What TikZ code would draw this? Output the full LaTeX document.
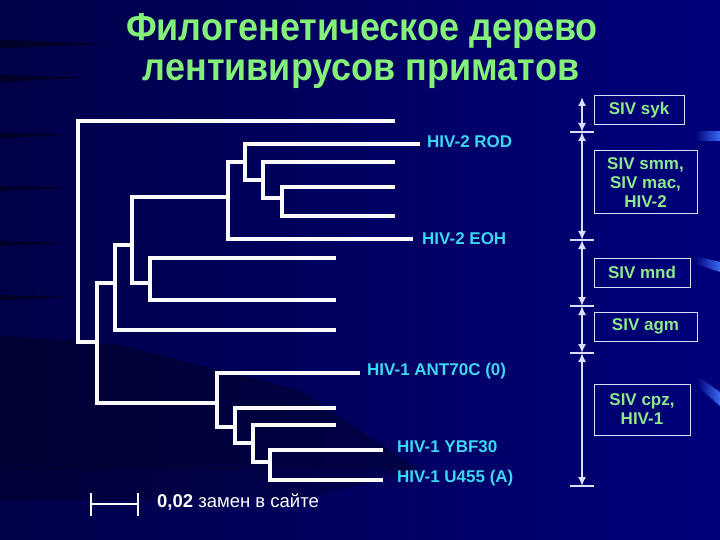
\documentclass[tikz,border=0pt]{standalone}
\usepackage{fontspec}
\setmainfont{Liberation Sans}
\usetikzlibrary{arrows.meta}
\definecolor{bgbase}{HTML}{00006A}
\definecolor{bgleft}{HTML}{000048}
\definecolor{bgright}{HTML}{00007A}
\definecolor{treec}{HTML}{FAFAFF}
\definecolor{lblcyan}{HTML}{3CD6F0}
\definecolor{boxgreen}{HTML}{8DE88D}
\definecolor{titlegreen}{HTML}{84F07A}
\definecolor{dimc}{HTML}{DCDCFF}
\definecolor{rayblue}{HTML}{3A6AF0}
\tikzset{
  branch/.style={draw=treec, line width=4pt, line join=miter, line cap=butt},
  leaflbl/.style={font=\bfseries\fontsize{17}{19}\selectfont, text=lblcyan, anchor=west, inner sep=0pt},
  groupbox/.style={draw=dimc, line width=1pt, text=boxgreen, font=\bfseries\fontsize{17}{19}\selectfont, align=center, inner sep=0pt},
  dimline/.style={draw=dimc, line width=1.6pt, {Latex[length=9pt,width=8pt]}-{Latex[length=9pt,width=8pt]}},
  dimtick/.style={draw=dimc, line width=1.6pt},
  titletext/.style={font=\bfseries\fontsize{36}{42}\selectfont, text=titlegreen, anchor=base, inner sep=0pt},
  streak/.style={fill=black, opacity=0.45}
}
\begin{document}
\begin{tikzpicture}[x=1pt,y=-1pt]
\useasboundingbox (0,0) rectangle (720,540);
% background
\fill[bgbase] (0,0) rectangle (720,540);
\shade[left color=bgleft, right color=bgright] (0,0) rectangle (720,540);
\fill[black, opacity=0.3] (0,335) -- (120,345) -- (300,390) -- (420,470) -- (0,470) -- cycle;
\fill[black, opacity=0.2] (0,470) -- (420,470) -- (300,500) -- (0,500) -- cycle;
\fill[streak] (0,40) -- (110,44) -- (0,48) -- cycle;
\fill[streak] (0,75) -- (90,78) -- (0,82) -- cycle;
\fill[streak] (0,133) -- (75,135) -- (0,138) -- cycle;
\fill[streak] (0,186) -- (75,188) -- (0,191) -- cycle;
\fill[streak] (0,241) -- (75,243) -- (0,246) -- cycle;
\fill[streak] (0,295) -- (75,297) -- (0,300) -- cycle;
% decorative rays at right edge
\shade[left color=bgright, right color=rayblue] (695,132) rectangle (720,141);
\shade[left color=bgright, right color=rayblue] (695,256) -- (720,262) -- (720,272) -- (695,264) -- cycle;
\shade[left color=bgright, right color=rayblue] (697,376) -- (720,392) -- (720,406) -- (697,386) -- cycle;

% title
\node[titletext, yscale=1.08] (title1) at (362,41) {Филогенетическое дерево};
\node[titletext, yscale=1.08] (title2) at (361,81) {лентивирусов приматов};

% leaf end points
\coordinate (l1) at (395,121);
\coordinate (l2) at (420,144);
\coordinate (l3) at (395,162);
\coordinate (l4) at (395,187);
\coordinate (l5) at (395,216);
\coordinate (l6) at (413,239);
\coordinate (l7) at (336,258);
\coordinate (l8) at (336,300);
\coordinate (l9) at (336,330);
\coordinate (l10) at (360,373);
\coordinate (l11) at (336,408);
\coordinate (l12) at (336,425);
\coordinate (l13) at (383,450);
\coordinate (l14) at (383,480);
% internal nodes
\coordinate (R) at (78,230);
\coordinate (A) at (97,342);
\coordinate (B) at (115,283);
\coordinate (C) at (132,245);
\coordinate (D) at (228,197);
\coordinate (E) at (245,162);
\coordinate (F) at (263,180);
\coordinate (G) at (282,198);
\coordinate (H) at (150,283);
\coordinate (I) at (217,403);
\coordinate (J) at (235,427);
\coordinate (K) at (253,443);
\coordinate (M) at (270,462);

% tree
\draw[branch] (l1) -| (R) |- (A);
\draw[branch] (B) -| (A) |- (I);
\draw[branch] (C) -| (B) |- (l9);
\draw[branch] (D) -| (C) |- (H);
\draw[branch] (E) -| (D) |- (l6);
\draw[branch] (l2) -| (E) |- (F);
\draw[branch] (l3) -| (F) |- (G);
\draw[branch] (l4) -| (G) |- (l5);
\draw[branch] (l7) -| (H) |- (l8);
\draw[branch] (l10) -| (I) |- (J);
\draw[branch] (l11) -| (J) |- (K);
\draw[branch] (l12) -| (K) |- (M);
\draw[branch] (l13) -| (M) |- (l14);

% leaf labels
\node[leaflbl] (rod) at (427,142) {HIV-2 ROD};
\node[leaflbl] (eoh) at (422,239) {HIV-2 EOH};
\node[leaflbl] (ant) at (367,371) {HIV-1 ANT70C (0)};
\node[leaflbl] (ybf) at (397,447) {HIV-1 YBF30};
\node[leaflbl] (u455) at (397,478) {HIV-1 U455 (A)};

% dimension column
\coordinate (d0) at (582,97);
\coordinate (d1) at (582,132);
\coordinate (d2) at (582,240);
\coordinate (d3) at (582,306);
\coordinate (d4) at (582,353);
\coordinate (d5) at (582,486);
\draw[dimline] (d0) -- (d1);
\draw[dimline] (d1) -- (d2);
\draw[dimline] (d2) -- (d3);
\draw[dimline] (d3) -- (d4);
\draw[dimline] (d4) -- (d5);
\foreach \t in {d1,d2,d3,d4,d5}{
  \draw[dimtick] ([xshift=-12pt]\t) -- ([xshift=12pt]\t);
}

% group boxes
\node[groupbox, minimum width=90pt, minimum height=29pt] (syk) at (639,110.5) {SIV syk};
\node[groupbox, minimum width=103pt, minimum height=63pt] (smm) at (645.5,182.5) {SIV smm,\\SIV mac,\\HIV-2};
\node[groupbox, minimum width=96pt, minimum height=29pt] (mnd) at (642,272.5) {SIV mnd};
\node[groupbox, minimum width=103pt, minimum height=29pt] (agm) at (645.5,326.5) {SIV agm};
\node[groupbox, minimum width=96pt, minimum height=51pt] (cpz) at (642,409.5) {SIV cpz,\\HIV-1};

% scale bar
\coordinate (sb1) at (91,504);
\coordinate (sb2) at (138,504);
\draw[dimtick, draw=treec] (sb1) -- (sb2);
\draw[dimtick, draw=treec] ([yshift=-12pt]sb1) -- ([yshift=11pt]sb1);
\draw[dimtick, draw=treec] ([yshift=-12pt]sb2) -- ([yshift=11pt]sb2);
\node[anchor=west, inner sep=0pt, text=white, font=\fontsize{18.5}{20}\selectfont] (scale) at (157,502) {\textbf{0,02} замен в сайте};
\end{tikzpicture}
\end{document}
